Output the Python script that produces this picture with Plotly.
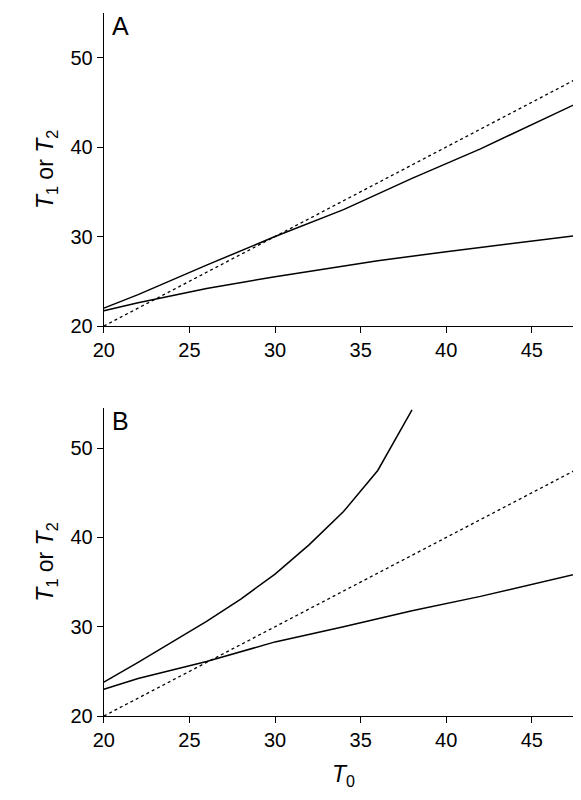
import plotly.graph_objects as go

xa_up = [20, 22, 26, 30, 34, 38, 42, 48]
ya_up = [22.0, 23.5, 26.8, 30.0, 33.0, 36.5, 39.8, 45.2]
xa_lo = [20, 22, 26, 30, 36, 40, 48]
ya_lo = [21.7, 22.6, 24.2, 25.5, 27.3, 28.3, 30.2]
xb_up = [20, 22, 24, 26, 28, 30, 32, 34, 36, 38]
yb_up = [23.8, 26.0, 28.3, 30.6, 33.1, 35.9, 39.2, 42.9, 47.5, 54.3]
xb_lo = [20, 22, 26, 30, 34, 38, 42, 48]
yb_lo = [23.0, 24.2, 26.1, 28.3, 30.0, 31.8, 33.4, 36.1]
x_id = [20, 48]

fig = go.Figure()
solid = dict(color="black", width=1.5)
dot = dict(color="black", width=1.3, dash="dot")
for xs, ys, ax in [(xa_up, ya_up, 1), (xa_lo, ya_lo, 1), (xb_up, yb_up, 2), (xb_lo, yb_lo, 2)]:
    fig.add_trace(go.Scatter(x=xs, y=ys, mode="lines", line=solid,
                             xaxis="x" if ax == 1 else "x2", yaxis="y" if ax == 1 else "y2"))
fig.add_trace(go.Scatter(x=x_id, y=x_id, mode="lines", line=dot, xaxis="x", yaxis="y"))
fig.add_trace(go.Scatter(x=x_id, y=x_id, mode="lines", line=dot, xaxis="x2", yaxis="y2"))

ax_common = dict(showline=True, linecolor="black", linewidth=1.3, ticks="outside",
                 ticklen=6, tickcolor="black", showgrid=False, zeroline=False,
                 automargin=False, tickfont=dict(size=20, color="black"))
ytitle = dict(text="<i>T</i><sub>1</sub> or <i>T</i><sub>2</sub>", standoff=10,
              font=dict(size=23, color="black"))
fig.update_layout(
    width=581, height=800, showlegend=False, plot_bgcolor="white", paper_bgcolor="white",
    margin=dict(l=0, r=0, t=0, b=0),
    font=dict(family="Liberation Sans, Arial, sans-serif", color="black"),
    xaxis=dict(domain=[0.165, 0.99], range=[20, 48], dtick=5, anchor="y", **ax_common),
    yaxis=dict(domain=[0.6025, 0.994], range=[20, 55], tickvals=[20, 30, 40, 50], anchor="x",
               title=ytitle, **ax_common),
    xaxis2=dict(domain=[0.165, 0.99], range=[20, 48], dtick=5, anchor="y2",
                title=dict(text="<i>T</i><sub>0</sub>", font=dict(size=23, color="black")), **ax_common),
    yaxis2=dict(domain=[0.115, 0.5], range=[20, 54.5], tickvals=[20, 30, 40, 50], anchor="x2",
                title=ytitle, **ax_common),
    annotations=[
        dict(text="A", x=0.193, y=0.998, xref="paper", yref="paper", showarrow=False,
             xanchor="center", yanchor="top", font=dict(size=25, color="black")),
        dict(text="B", x=0.193, y=0.504, xref="paper", yref="paper", showarrow=False,
             xanchor="center", yanchor="top", font=dict(size=25, color="black")),
    ],
)
fig.write_html("out.html")
